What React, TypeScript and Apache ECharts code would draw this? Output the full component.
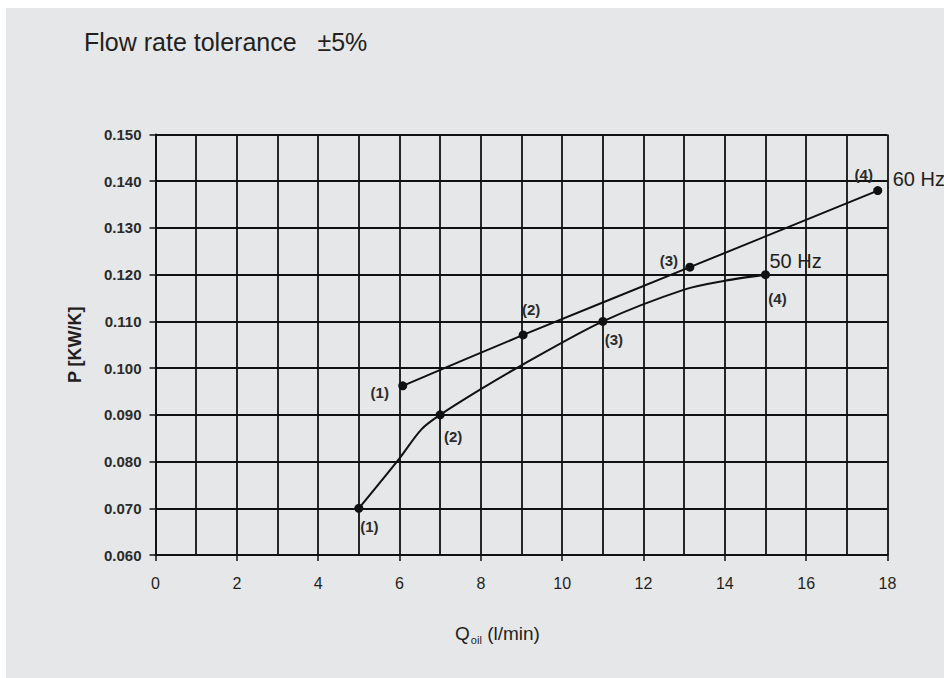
import React, { useEffect, useRef } from "react";
import * as echarts from "echarts";

// ---- data ----
const xTicks = [0, 2, 4, 6, 8, 10, 12, 14, 16, 18];
const yTicks = [0.06, 0.07, 0.08, 0.09, 0.1, 0.11, 0.12, 0.13, 0.14, 0.15];

// 60 Hz curve
const q60 = [6.08, 9.04, 13.14, 17.76];
const p60 = [0.0962, 0.1071, 0.1216, 0.138];
const tags60 = ["(1)", "(2)", "(3)", "(4)"];

// 50 Hz curve (including unmarked points)
const q50 = [5, 6, 6.54, 7, 8, 9, 11, 13, 14, 15];
const p50 = [0.07, 0.0807, 0.0869, 0.09, 0.0955, 0.1006, 0.11, 0.1168, 0.1187, 0.12];
const tags50 = ["(1)", "", "", "(2)", "", "", "(3)", "", "", "(4)"];

const seriesNames = ["60 Hz", "50 Hz"];
const titleText = "Flow rate tolerance   ±5%";
const yName = "P [KW/K]";

// ---- styling ----
const FONT = "'Liberation Sans', Arial, Helvetica, sans-serif";
const INK = "#231f20";
const LINE = "#111111";

const offs60: number[][] = [[-23, 7], [8, -25], [-21, -7], [-14, -16]];
const offs50: number[][] = [[10.5, 18.6], [13, 21.5], [11, 17.7], [12, 24]];

function buildData(qs: number[], ps: number[], tags: string[], offs: number[][]) {
  let k = 0;
  return qs.map((q, i) => {
    const tag = tags[i];
    if (!tag) {
      return { value: [q, ps[i]], symbol: "none" };
    }
    const off = offs[k++];
    return {
      value: [q, ps[i]],
      symbol: "circle",
      symbolSize: 9,
      label: {
        show: true,
        formatter: tag,
        position: "inside",
        offset: off,
        color: "#2b2b2b",
        fontFamily: FONT,
        fontWeight: "bold",
        fontSize: 15,
        align: "center",
        verticalAlign: "middle",
      },
    };
  });
}

export default function App() {
  const ref = useRef<HTMLDivElement>(null);

  useEffect(() => {
    if (!ref.current) return;
    const chart = echarts.init(ref.current, undefined, { renderer: "svg" });
    const gridLine = { color: LINE, width: 1.8 };
    chart.setOption({
      animation: false,
      backgroundColor: "#ffffff",
      textStyle: { fontFamily: FONT },
      graphic: [
        {
          type: "rect",
          z: -100,
          silent: true,
          shape: { x: 6, y: 8, width: 938, height: 670 },
          style: { fill: "#e6e7e8" },
        },
      ],
      title: {
        text: titleText,
        left: 84,
        top: 29,
        padding: 0,
        textStyle: {
          fontFamily: FONT,
          fontSize: 25,
          fontWeight: "normal",
          color: INK,
        },
      },
      grid: { left: 155.5, right: 56.5, top: 134.5, bottom: 123, containLabel: false },
      xAxis: {
        type: "value",
        min: xTicks[0],
        max: xTicks[xTicks.length - 1],
        interval: 2,
        name: "{q|Q}{s|oil}{q| (l/min)}",
        nameLocation: "middle",
        nameGap: 66,
        nameTextStyle: {
          padding: [0, 48, 0, 0],
          rich: {
            q: { fontFamily: FONT, fontSize: 19, color: INK, lineHeight: 24, verticalAlign: "middle" },
            s: { fontFamily: FONT, fontSize: 11, color: INK, lineHeight: 24, verticalAlign: "bottom", padding: [10, 0, 0, 1] },
          },
        },
        axisLine: { show: true, onZero: false, lineStyle: { color: LINE, width: 2 } },
        axisTick: { show: true, length: 6, lineStyle: { color: LINE, width: 1.5 } },
        axisLabel: {
          margin: 20,
          fontFamily: FONT,
          fontSize: 16,
          color: INK,
          formatter: (v: number) => String(v),
        },
        splitLine: { show: true, lineStyle: gridLine },
        minorTick: { show: false, splitNumber: 2 },
        minorSplitLine: { show: true, lineStyle: gridLine },
      },
      yAxis: {
        type: "value",
        min: yTicks[0],
        max: yTicks[yTicks.length - 1],
        interval: 0.01,
        name: yName,
        nameLocation: "middle",
        nameGap: 72,
        nameTextStyle: { fontFamily: FONT, fontSize: 18, fontWeight: "bold", color: INK },
        axisLine: { show: true, onZero: false, lineStyle: { color: LINE, width: 2 } },
        axisTick: { show: true, length: 6, lineStyle: { color: LINE, width: 1.5 } },
        axisLabel: {
          margin: 14,
          fontFamily: FONT,
          fontSize: 15,
          fontWeight: "bold",
          color: "#2b2b2b",
          showMinLabel: true,
          showMaxLabel: true,
          formatter: (v: number) => v.toFixed(3),
        },
        splitLine: { show: true, lineStyle: gridLine },
      },
      series: [
        {
          name: seriesNames[0],
          type: "line",
          smooth: 0.2,
          data: buildData(q60, p60, tags60, offs60),
          lineStyle: { color: LINE, width: 2 },
          itemStyle: { color: LINE },
          symbol: "circle",
          symbolSize: 9,
          z: 5,
          endLabel: {
            show: true,
            formatter: seriesNames[0],
            fontFamily: FONT,
            fontSize: 20,
            color: INK,
            distance: 0,
            offset: [15, -12],
            align: "left",
            verticalAlign: "middle",
          },
        },
        {
          name: seriesNames[1],
          type: "line",
          smooth: 0.3,
          data: buildData(q50, p50, tags50, offs50),
          lineStyle: { color: LINE, width: 2 },
          itemStyle: { color: LINE },
          symbol: "circle",
          symbolSize: 9,
          z: 5,
          endLabel: {
            show: true,
            formatter: seriesNames[1],
            fontFamily: FONT,
            fontSize: 20,
            color: INK,
            distance: 0,
            offset: [4, -14],
            align: "left",
            verticalAlign: "middle",
          },
        },
      ],
    });
    return () => chart.dispose();
  }, []);

  return (
    <div
      ref={ref}
      style={{ position: "absolute", left: 0, top: 0, width: 944, height: 678 }}
    />
  );
}
